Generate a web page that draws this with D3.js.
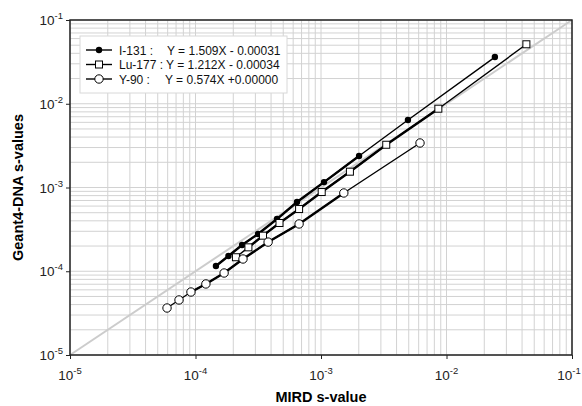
<!DOCTYPE html>
<html>
<head>
<meta charset="utf-8">
<script src="https://cdn.jsdelivr.net/npm/d3@7"></script>
<style>
  body { margin: 0; background: #fff; }
  svg { font-family: "Liberation Sans", Arial, sans-serif; }
</style>
</head>
<body>
<div id="chart"></div>
<script>
// values (MIRD s-value vs Geant4-DNA s-value)
const i131X = [1.455e-4, 1.83e-4, 2.35e-4, 3.15e-4, 4.46e-4, 6.44e-4, 1.057e-3, 2.01e-3, 4.93e-3, 2.43e-2];
const i131Y = [1.156e-4, 1.52e-4, 2.06e-4, 2.79e-4, 4.2e-4, 6.71e-4, 1.16e-3, 2.38e-3, 6.4e-3, 3.61e-2];

const lu177X = [2.10e-4, 2.64e-4, 3.45e-4, 4.67e-4, 6.69e-4, 1.013e-3, 1.70e-3, 3.31e-3, 8.61e-3, 4.33e-2];
const lu177Y = [1.47e-4, 1.93e-4, 2.66e-4, 3.77e-4, 5.53e-4, 8.83e-4, 1.545e-3, 3.24e-3, 8.73e-3, 5.13e-2];

const y90X = [5.93e-5, 7.39e-5, 9.2e-5, 1.21e-4, 1.69e-4, 2.39e-4, 3.79e-4, 6.69e-4, 1.52e-3, 6.15e-3];
const y90Y = [3.64e-5, 4.54e-5, 5.65e-5, 7.05e-5, 9.53e-5, 1.40e-4, 2.23e-4, 3.67e-4, 8.6e-4, 3.40e-3];

const seriesNames = ["I-131 :", "Lu-177 :", "Y-90 :"];
const fitLabels = ["Y = 1.509X - 0.00031", "Y = 1.212X - 0.00034", "Y = 0.574X +0.00000"];
const decadeTicks = [-5, -4, -3, -2, -1];

const width = 582, height = 406;
const margin = { top: 20, right: 10, bottom: 51, left: 70 };

const svg = d3.select("#chart").append("svg")
  .attr("width", width)
  .attr("height", height);

const x = d3.scaleLog().domain([1e-5, 1e-1]).range([margin.left, width - margin.right]);
const y = d3.scaleLog().domain([1e-5, 1e-1]).range([height - margin.bottom, margin.top]);

// grid lines, one per minor step
let gridVals = [];
for (let e = -5; e < -1; e++) {
  for (let m = 1; m < 10; m++) gridVals.push(m * Math.pow(10, e));
}
gridVals.push(1e-1);

const grid = svg.append("g");
grid.selectAll(".gx").data(gridVals).join("line")
  .attr("x1", d => x(d)).attr("x2", d => x(d))
  .attr("y1", y(1e-5)).attr("y2", y(1e-1))
  .attr("stroke", "#d2d2d2").attr("stroke-width", 1);
grid.selectAll(".gy").data(gridVals).join("line")
  .attr("y1", d => y(d)).attr("y2", d => y(d))
  .attr("x1", x(1e-5)).attr("x2", x(1e-1))
  .attr("stroke", "#d2d2d2").attr("stroke-width", 1);

// identity line
svg.append("line")
  .attr("x1", x(1e-5)).attr("y1", y(1e-5))
  .attr("x2", x(1e-1)).attr("y2", y(1e-1))
  .attr("stroke", "#cccccc").attr("stroke-width", 2);

// axes
const tickVals = decadeTicks.map(e => Math.pow(10, e));
const xAxis = svg.append("g")
  .attr("transform", `translate(0,${y(1e-5)})`)
  .call(d3.axisBottom(x).tickValues(tickVals).tickSize(4).tickFormat(""));
const yAxis = svg.append("g")
  .attr("transform", `translate(${x(1e-5)},0)`)
  .call(d3.axisLeft(y).tickValues(tickVals).tickSize(4).tickFormat(""));
[xAxis, yAxis].forEach(a => {
  a.select(".domain").remove();
  a.selectAll("line").attr("stroke", "#222");
});

// tick labels with superscripts
function powerLabel(sel) {
  sel.text("10").append("tspan")
    .attr("dy", -6)
    .style("font-size", "9.5px")
    .text(d => "-" + Math.abs(d));
}
svg.append("g").selectAll("text").data(decadeTicks).join("text")
  .attr("x", d => Math.min(x(Math.pow(10, d)), width - 13))
  .attr("y", y(1e-5) + 25)
  .attr("text-anchor", "middle")
  .style("font-size", "13.5px")
  .attr("fill", "#222")
  .call(powerLabel);
svg.append("g").selectAll("text").data(decadeTicks).join("text")
  .attr("x", x(1e-5) - 7)
  .attr("y", d => y(Math.pow(10, d)) + 5)
  .attr("text-anchor", "end")
  .style("font-size", "13.5px")
  .attr("fill", "#222")
  .call(powerLabel);

// frame
svg.append("rect")
  .attr("x", x(1e-5)).attr("y", y(1e-1))
  .attr("width", x(1e-1) - x(1e-5)).attr("height", y(1e-5) - y(1e-1))
  .attr("fill", "none").attr("stroke", "#222").attr("stroke-width", 1.5);

// series
const series = [
  { xs: i131X, ys: i131Y, marker: "dot", thick: [0, 7] },
  { xs: lu177X, ys: lu177Y, marker: "square", thick: [1, 8] },
  { xs: y90X, ys: y90Y, marker: "circle", thick: [2, 8] }
];

const line = d3.line().x(d => x(d[0])).y(d => y(d[1]));

function drawMarker(g, type, cx, cy) {
  if (type === "dot") {
    g.append("circle").attr("cx", cx).attr("cy", cy).attr("r", 3.2).attr("fill", "#000");
  } else if (type === "square") {
    g.append("rect").attr("x", cx - 3.5).attr("y", cy - 3.5).attr("width", 7).attr("height", 7)
      .attr("fill", "#fff").attr("stroke", "#000").attr("stroke-width", 1);
  } else {
    g.append("circle").attr("cx", cx).attr("cy", cy).attr("r", 4.2)
      .attr("fill", "#fff").attr("stroke", "#000").attr("stroke-width", 1);
  }
}

series.forEach(s => {
  const pts = s.xs.map((v, i) => [v, s.ys[i]]);
  svg.append("path").attr("d", line(pts))
    .attr("fill", "none").attr("stroke", "#000").attr("stroke-width", 1.4);
  svg.append("path").attr("d", line(pts.slice(s.thick[0], s.thick[1] + 1)))
    .attr("fill", "none").attr("stroke", "#000").attr("stroke-width", 2.4);
  const g = svg.append("g");
  pts.forEach(p => drawMarker(g, s.marker, x(p[0]), y(p[1])));
});

// legend
const legend = svg.append("g");
legend.append("rect")
  .attr("x", 80).attr("y", 36).attr("width", 207).attr("height", 57)
  .attr("fill", "#fff").attr("stroke", "#d8d8d8").attr("stroke-width", 1);
const rowY = [50, 64.5, 79];
const fitX = [167, 159, 165];
series.forEach((s, i) => {
  legend.append("line")
    .attr("x1", 86).attr("x2", 112).attr("y1", rowY[i]).attr("y2", rowY[i])
    .attr("stroke", "#000").attr("stroke-width", 1.4);
  drawMarker(legend, s.marker, 99, rowY[i]);
  const nm = legend.append("text")
    .attr("x", 119).attr("y", rowY[i] + 4.5)
    .style("font-size", "12px").attr("fill", "#111")
    .text(seriesNames[i]);
  const nameEnd = 119 + nm.node().getComputedTextLength();
  legend.append("text")
    .attr("x", Math.max(fitX[i], nameEnd + 3)).attr("y", rowY[i] + 4.5)
    .style("font-size", "12px").attr("fill", "#111")
    .text(fitLabels[i]);
});

// axis titles
svg.append("text")
  .attr("x", (x(1e-5) + x(1e-1)) / 2)
  .attr("y", 402)
  .attr("text-anchor", "middle")
  .style("font-size", "14.5px").style("font-weight", "bold")
  .text("MIRD s-value");
svg.append("text")
  .attr("transform", `translate(23,${(y(1e-5) + y(1e-1)) / 2}) rotate(-90)`)
  .attr("text-anchor", "middle")
  .style("font-size", "14.5px").style("font-weight", "bold")
  .text("Geant4-DNA s-values");
</script>
</body>
</html>
